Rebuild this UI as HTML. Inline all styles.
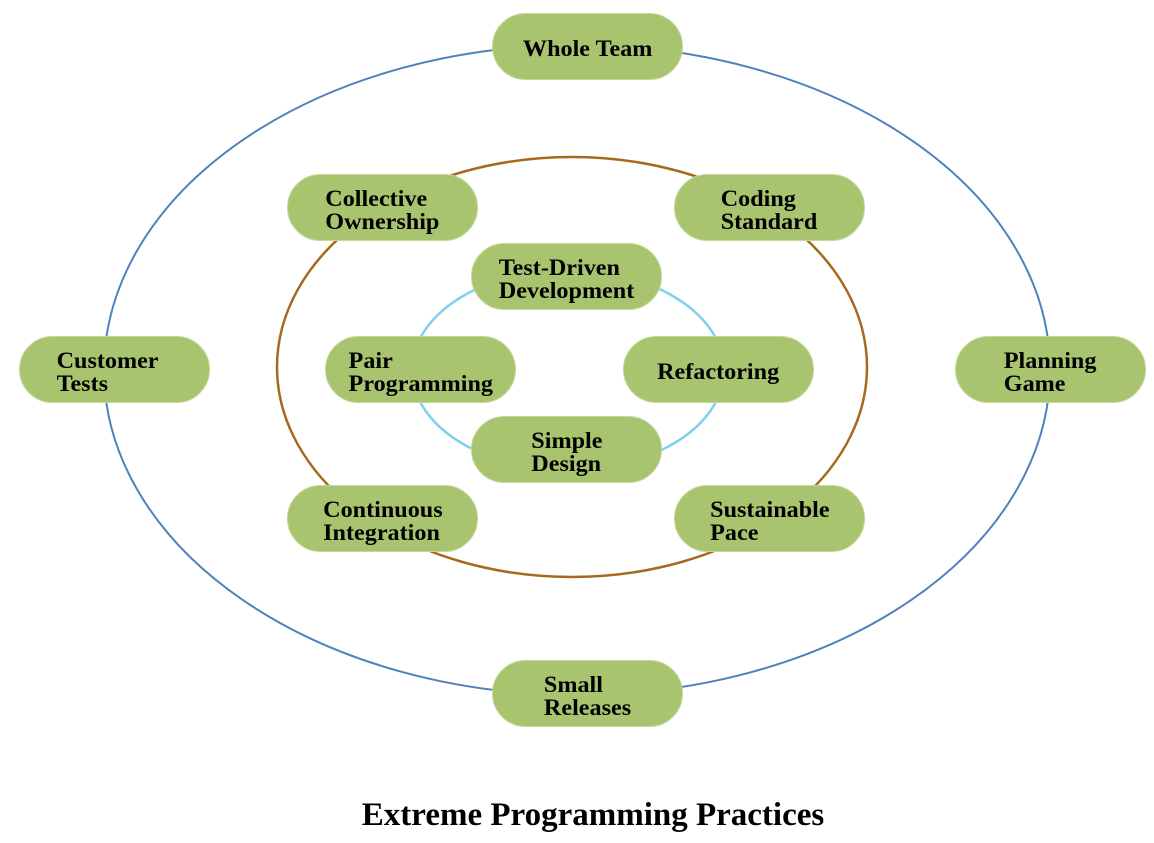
<!DOCTYPE html>
<html><head><meta charset="utf-8"><style>
body{margin:0;width:1154px;height:843px;background:#fff;position:relative;overflow:hidden;font-family:"Liberation Serif",serif;}
.n{position:absolute;width:191px;height:67px;border-radius:34px;background:#a8c46f;border:1px solid #c4d89a;box-sizing:border-box;display:flex;align-items:center;justify-content:center;}
.n span{display:inline-block;text-align:left;font-weight:bold;font-size:23px;line-height:23px;color:#000;transform:translateY(2px) scaleX(1.05);}
.t{position:absolute;left:0;width:1154px;top:797px;text-align:center;font-weight:bold;font-size:33px;transform:translateX(16px);}
</style></head><body>
<svg width="1154" height="843" style="position:absolute;left:0;top:0">
<ellipse cx="577" cy="370" rx="473" ry="325" fill="none" stroke="#4f81bd" stroke-width="2"/>
<ellipse cx="572" cy="367" rx="295" ry="210" fill="none" stroke="#a66a1e" stroke-width="2.5"/>
<ellipse cx="568" cy="370" rx="156" ry="100" fill="none" stroke="#7fd0f0" stroke-width="2.5"/>
</svg>
<div class="n" style="left:492px;top:13px"><span>Whole Team</span></div>
<div class="n" style="left:19px;top:336px"><span style="margin-right:14px">Customer<br>Tests</span></div>
<div class="n" style="left:955px;top:336px"><span>Planning<br>Game</span></div>
<div class="n" style="left:492px;top:660px"><span>Small<br>Releases</span></div>
<div class="n" style="left:287px;top:174px"><span>Collective<br>Ownership</span></div>
<div class="n" style="left:674px;top:174px"><span>Coding<br>Standard</span></div>
<div class="n" style="left:471px;top:243px"><span>Test-Driven<br>Development</span></div>
<div class="n" style="left:325px;top:336px"><span>Pair<br>Programming</span></div>
<div class="n" style="left:623px;top:336px"><span>Refactoring</span></div>
<div class="n" style="left:471px;top:416px"><span>Simple<br>Design</span></div>
<div class="n" style="left:287px;top:485px"><span>Continuous<br>Integration</span></div>
<div class="n" style="left:674px;top:485px"><span>Sustainable<br>Pace</span></div>
<div class="t">Extreme Programming Practices</div>
</body></html>
